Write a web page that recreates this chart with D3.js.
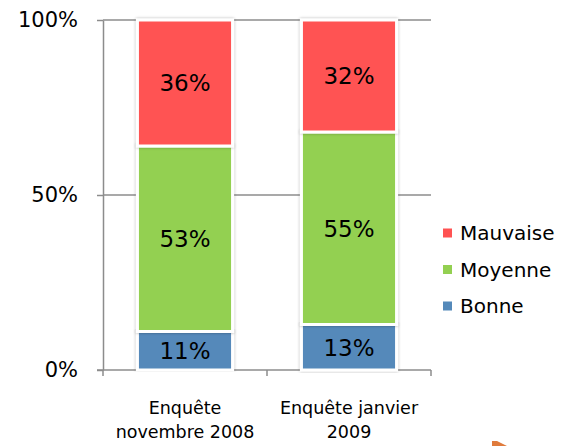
<!DOCTYPE html>
<html>
<head>
<meta charset="utf-8">
<script src="https://cdn.jsdelivr.net/npm/d3@7"></script>
<style>
  body { margin: 0; background: #fff; }
  text { font-family: "DejaVu Sans", sans-serif; fill: #000; }
</style>
</head>
<body>
<div id="chart"></div>
<script>
var categories = [["Enquête", "novembre 2008"], ["Enquête janvier", "2009"]];
var series = ["Bonne", "Moyenne", "Mauvaise"];
var bonne = [0.11, 0.13];
var moyenne = [0.53, 0.55];
var mauvaise = [0.36, 0.32];
var yTicks = [0, 0.5, 1];
var colors = ["#5489BA", "#93D051", "#FF5252"];

var W = 567, H = 446;
var margin = { top: 20, left: 103 };
var width = 328, height = 350;

var rows = categories.map(function (c, i) {
  return { key: i, Bonne: bonne[i], Moyenne: moyenne[i], Mauvaise: mauvaise[i] };
});
var stacked = d3.stack().keys(series)(rows);

var svg = d3
  .select("#chart")
  .append("svg")
  .attr("width", W)
  .attr("height", H);

var defs = svg.append("defs");
defs
  .append("filter")
  .attr("id", "shadow")
  .attr("x", "-20%")
  .attr("y", "-5%")
  .attr("width", "140%")
  .attr("height", "110%")
  .append("feDropShadow")
  .attr("dx", 0)
  .attr("dy", 0)
  .attr("stdDeviation", 1.6)
  .attr("flood-color", "#000")
  .attr("flood-opacity", 0.35);

var g = svg
  .append("g")
  .attr("transform", "translate(" + margin.left + "," + margin.top + ")");

var x = d3
  .scaleBand()
  .domain(d3.range(categories.length))
  .range([0, width])
  .paddingInner(0.42)
  .paddingOuter(0.21);
var y = d3.scaleLinear().domain([0, 1]).range([height, 0]);

// gridlines
g.selectAll(".grid")
  .data(yTicks.filter(function (d) { return d > 0; }))
  .enter()
  .append("line")
  .attr("x1", 0)
  .attr("x2", width)
  .attr("y1", function (d) { return y(d); })
  .attr("y2", function (d) { return y(d); })
  .style("stroke", "#8c8c8c")
  .style("stroke-width", 1.5);

// y axis
var yAxis = g
  .append("g")
  .call(
    d3.axisLeft(y)
      .tickValues(yTicks)
      .tickSizeInner(6)
      .tickSizeOuter(0)
      .tickPadding(19)
      .tickFormat(d3.format(".0%"))
  );
yAxis.select(".domain").style("stroke", "#8c8c8c").style("stroke-width", 1.5);
yAxis.selectAll(".tick line").style("stroke", "#8c8c8c").style("stroke-width", 1.5);
yAxis
  .selectAll(".tick text")
  .style("font-size", "21px")
  .style("font-family", "DejaVu Sans, sans-serif")
  .attr("fill", "#000");

// x axis line and ticks at band boundaries
g.append("line")
  .attr("x1", -6)
  .attr("x2", width)
  .attr("y1", y(0))
  .attr("y2", y(0))
  .style("stroke", "#8c8c8c")
  .style("stroke-width", 1.5);
g.selectAll(".xtick")
  .data(d3.range(categories.length + 1))
  .enter()
  .append("line")
  .attr("x1", function (d) { return d * x.step(); })
  .attr("x2", function (d) { return d * x.step(); })
  .attr("y1", y(0))
  .attr("y2", y(0) + 6)
  .style("stroke", "#8c8c8c")
  .style("stroke-width", 1.5);

// bars
stacked.forEach(function (layer, li) {
  g.selectAll(".seg" + li)
    .data(layer)
    .enter()
    .append("rect")
    .attr("x", function (d, i) { return x(i); })
    .attr("y", function (d) { return y(d[1]); })
    .attr("width", x.bandwidth())
    .attr("height", function (d) { return y(d[0]) - y(d[1]); })
    .style("fill", colors[li])
    .style("stroke", "#fff")
    .style("stroke-width", 3)
    .attr("filter", "url(#shadow)");
});

stacked.forEach(function (layer, li) {
  g.selectAll(".lab" + li)
    .data(layer)
    .enter()
    .append("text")
    .attr("x", function (d, i) { return x(i) + x.bandwidth() / 2; })
    .attr("y", function (d) { return (y(d[0]) + y(d[1])) / 2; })
    .attr("dy", "0.36em")
    .attr("text-anchor", "middle")
    .style("font-size", "23px")
    .text(function (d) { return Math.round((d[1] - d[0]) * 100) + "%"; });
});

// category labels
var cat = g
  .selectAll(".cat")
  .data(categories)
  .enter()
  .append("text")
  .attr("text-anchor", "middle")
  .attr("transform", function (d, i) {
    return "translate(" + (x(i) + x.bandwidth() / 2) + "," + (y(0) + 44) + ")";
  })
  .style("font-size", "17.5px");
cat
  .selectAll("tspan")
  .data(function (d) { return d; })
  .enter()
  .append("tspan")
  .attr("x", 0)
  .attr("y", function (d, i) { return i * 24; })
  .text(function (d) { return d; });

// legend
var legendOrder = series.slice().reverse();
var legend = svg
  .append("g")
  .attr("transform", "translate(443,233)")
  .selectAll("g")
  .data(legendOrder)
  .enter()
  .append("g")
  .attr("transform", function (d, i) { return "translate(0," + i * 36.5 + ")"; });
legend
  .append("rect")
  .attr("x", 0)
  .attr("y", -4.5)
  .attr("width", 9)
  .attr("height", 9)
  .style("fill", function (d) { return colors[series.indexOf(d)]; });
legend
  .append("text")
  .attr("x", 17)
  .attr("dy", "0.36em")
  .style("font-size", "20px")
  .text(function (d) { return d; });

// corner decoration
svg
  .append("path")
  .attr("d", "M492,441 L497,441 L507,446 L492,446 Z")
  .style("fill", "#E07B3C");
</script>
</body>
</html>
